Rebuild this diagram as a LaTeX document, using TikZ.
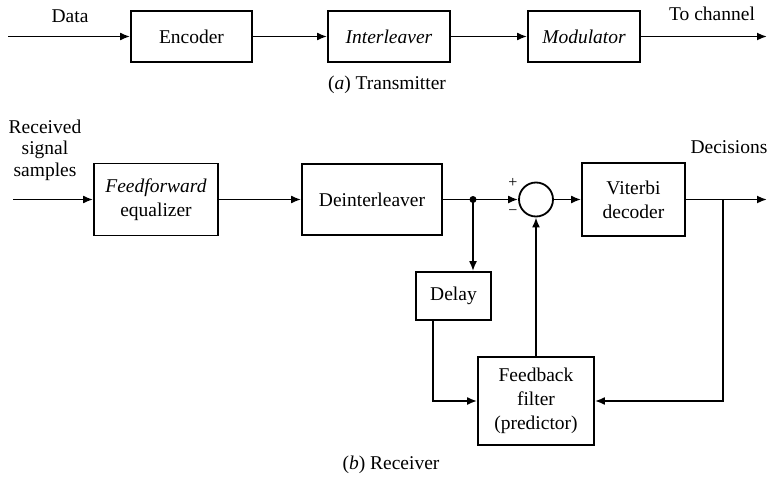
\documentclass[tikz,border=0pt]{standalone}
\usepackage{fontspec}
\setmainfont{Liberation Serif}
\usetikzlibrary{arrows.meta}
\newcommand{\blkfont}{\fontsize{19.5}{24}\selectfont}
\newcommand{\pmfont}{\fontsize{16}{16}\selectfont}

\begin{document}
\begin{tikzpicture}[x=1pt,y=-1pt,
  blk/.style={draw,line width=1.8pt,inner sep=0pt,align=center,font=\blkfont},
  sig/.style={line width=1.8pt,-{Latex[length=10pt,width=8pt]}},
  wire/.style={line width=1.8pt},
  lbl/.style={inner sep=0pt,align=center,font=\blkfont}]
  \useasboundingbox (0,0) rectangle (769,482);
  % (a) transmitter
  \node[blk,minimum width=121pt,minimum height=51pt] (enc) at (191.5,36.5) {Encoder};
  \node[blk,minimum width=122pt,minimum height=51pt] (intl) at (389,36.5) {\textit{Interleaver}};
  \node[blk,minimum width=112pt,minimum height=51pt] (mod) at (584,36.5) {\textit{Modulator}};
  \coordinate (datain) at (8,36.5);
  \coordinate (chanout) at (767,36.5);
  \node[lbl] (datalbl) at (70,16) {Data};
  \node[lbl] (chanlbl) at (712,14) {To channel};
  \node[lbl] (txcap) at (387,85) {(\textit{a}) Transmitter};
  \draw[sig] (datain) -- (enc);
  \draw[sig] (enc) -- (intl);
  \draw[sig] (intl) -- (mod);
  \draw[sig] (mod) -- (chanout);
  % (b) receiver
  \node[lbl,font=\fontsize{19.5}{21.5}\selectfont] (rxlbl) at (45,150) {Received\\signal\\samples};
  \coordinate (rxin) at (13,199.5);
  \node[blk,minimum width=124pt,minimum height=72pt] (ffe) at (156,199.5) {\textit{Feedforward}\\equalizer};
  \node[blk,minimum width=140pt,minimum height=71pt] (deint) at (372,199.5) {Deinterleaver};
  \coordinate (split) at (473,199.5);
  \node[draw,circle,line width=1.8pt,minimum size=34pt,inner sep=0pt] (sum) at (536,199.5) {};
  \node[lbl,font=\pmfont] (plus) at (513,183) {+};
  \node[lbl,font=\pmfont] (minus) at (513,213) {−};
  \node[blk,minimum width=103pt,minimum height=73pt] (vit) at (633.5,199.5) {Viterbi\\decoder};
  \coordinate (branch) at (723,199.5);
  \coordinate (decout) at (767,199.5);
  \node[lbl] (declbl) at (729,147) {Decisions};
  \node[blk,minimum width=75pt,minimum height=48pt] (delay) at (453.5,296) {Delay};
  \node[blk,minimum width=116pt,minimum height=88pt] (fbf) at (536,401) {Feedback\\filter\\(predictor)};
  \node[lbl] (rxcap) at (391,465) {(\textit{b}) Receiver};
  \draw[sig] (rxin) -- (ffe);
  \draw[sig] (ffe) -- (deint);
  \draw[wire] (deint) -- (split);
  \fill (split) circle (3.5pt);
  \draw[sig] (split) -- (sum);
  \draw[sig] (sum) -- (vit);
  \draw[sig] (vit) -- (decout);
  \draw[sig] (split) -- (split |- delay.north);
  \draw[sig] ([xshift=-20.5pt]delay.south) |- (fbf.west);
  \draw[sig] (fbf.north) -- (sum.south);
  \draw[sig] (branch) |- (fbf.east);
\end{tikzpicture}
\end{document}
